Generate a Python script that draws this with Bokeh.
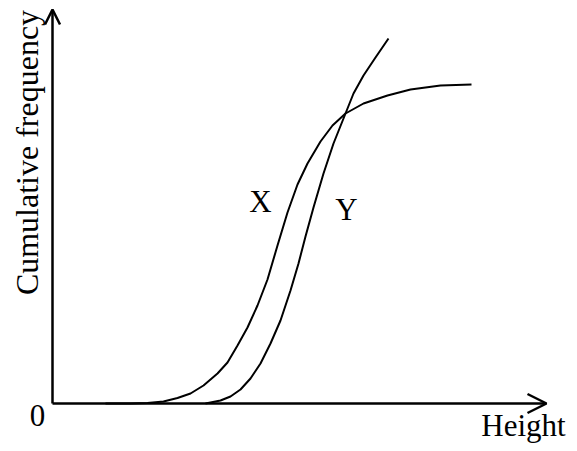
from bokeh.plotting import figure
from bokeh.models import Arrow, OpenHead, ColumnDataSource
from bokeh.core.properties import value
from bokeh.embed import file_html
from bokeh.resources import INLINE
import math

# Curve X: height vs cumulative frequency
x_height = [53, 78, 95, 111, 125, 138, 151, 165, 175, 185, 195, 205, 215, 225,
            235, 245, 255, 268, 280, 293, 311, 335, 358, 388, 419]
x_cumfreq = [0, 0, 0.5, 2, 5.5, 10, 18, 30, 41, 58, 76, 98, 124, 158,
             191, 219, 240, 262, 278, 290, 300, 308, 314, 318, 319]

# Curve Y
y_height = [153, 168, 178, 188, 198, 208, 218, 228, 238, 246, 253, 261, 271,
            281, 293, 301, 311, 323, 336]
y_cumfreq = [0, 3, 7, 14, 25, 40, 60, 83, 113, 140, 167, 196, 230,
             260, 290, 310, 328, 346, 365]

# Axis extents
x_axis_end = 494
y_axis_end = 394

# Labels
label_text = ["X", "Y", "0", "Height"]
label_x = [208, 294, -15, 471]
label_y = [202, 194, -12, -22]
y_title = "Cumulative frequency"

FONT = "Liberation Serif"

p = figure(width=569, height=443, x_range=(-52, 517), y_range=(-40, 403),
           min_border=0, outline_line_color=None, toolbar_location=None,
           x_axis_location=None, y_axis_location=None, output_backend="svg")
p.grid.visible = False
p.background_fill_color = "white"
p.border_fill_color = "white"

p.line(x_height, x_cumfreq, line_color="black", line_width=2, line_join="round")
p.line(y_height, y_cumfreq, line_color="black", line_width=2, line_join="round")

p.add_layout(Arrow(x_start=0, y_start=0, x_end=0, y_end=y_axis_end,
                   line_width=2.5, line_color="black",
                   end=OpenHead(size=15, line_width=2.5, line_color="black")))
p.add_layout(Arrow(x_start=0, y_start=0, x_end=x_axis_end, y_end=0,
                   line_width=2.5, line_color="black",
                   end=OpenHead(size=19, line_width=2.5, line_color="black")))

src = ColumnDataSource(dict(x=label_x, y=label_y, t=label_text))
p.text(x="x", y="y", text="t", source=src, text_font=value(FONT),
       text_font_size="31px", text_align="center", text_baseline="alphabetic",
       text_color="black")

p.text(x=[-26], y=[251], text=[y_title], angle=math.pi / 2,
       text_font=value(FONT), text_font_size="32px", text_align="center",
       text_baseline="alphabetic", text_color="black")

open("out.html", "w").write(file_html(p, INLINE))
